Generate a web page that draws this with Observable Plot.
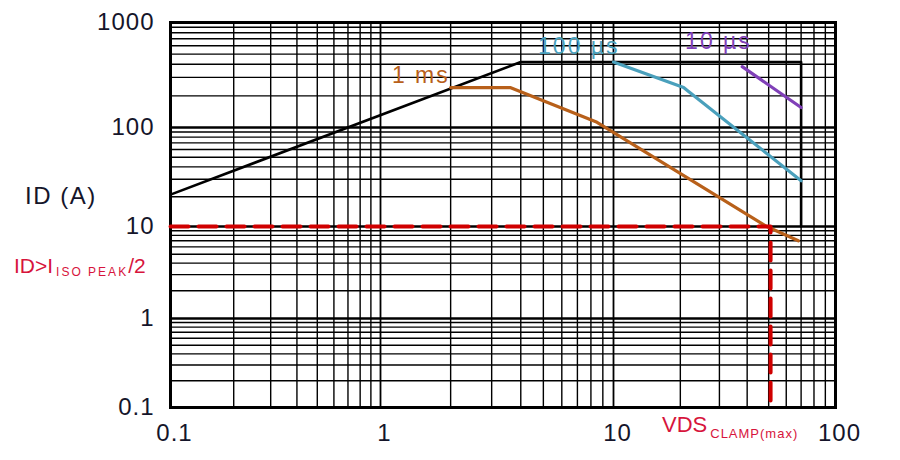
<!DOCTYPE html>
<html>
<head>
<meta charset="utf-8">
<script src="https://cdn.jsdelivr.net/npm/d3@7"></script>
<script src="https://cdn.jsdelivr.net/npm/@observablehq/plot@0.6"></script>
<style>
  html, body { margin: 0; padding: 0; background: #fff; }
  #chart { width: 900px; height: 460px; }
  svg { font-family: "Liberation Sans", Arial, sans-serif; }
  .tick-lbl text { letter-spacing: 1px; }
  .curve-lbl text { letter-spacing: 2px; }
</style>
</head>
<body>
<div id="chart"></div>
<script>
// ---- data ----
const xDecades = [0.1, 1, 10, 100];
const yDecades = [0.1, 1, 10, 100, 1000];
const xTickLabels = {0.1: "0.1", 1: "1", 10: "10", 100: "100"};
const yTickLabels = {0.1: "0.1", 1: "1", 10: "10", 100: "100", 1000: "1000"};

// DC / SOA envelope (black)
const soaVds = [0.1, 4, 70, 70];
const soaId  = [21, 420, 420, 10];
// 1 ms
const ms1Vds = [2, 3.6, 8.5, 49, 68];
const ms1Id  = [240, 240, 112, 10, 7];
// 100 µs
const us100Vds = [10, 20.7, 21.5, 70];
const us100Id  = [420, 240, 225, 29];
// 10 µs
const us10Vds = [38, 70];
const us10Id  = [380, 155];
// limit: ID > I_ISO PEAK / 2 and VDS_CLAMP(max)
const limitVds = [0.1, 51, 51];
const limitId  = [10, 10, 0.1];

// curve labels
const curveNames = ["1 ms", "100 µs", "10 µs"];
const curveLabelVds = [1.49, 7.1, 29.7];
const curveLabelId  = [313, 590, 660];
const curveColors = ["#b8601a", "#4aa0bc", "#8040b8"];

// ---- build tables ----
const toRows = (xs, ys) => xs.map((v, i) => ({v, i: ys[i]}));
const soa = toRows(soaVds, soaId);
const ms1 = toRows(ms1Vds, ms1Id);
const us100 = toRows(us100Vds, us100Id);
const us10 = toRows(us10Vds, us10Id);
const limit = toRows(limitVds, limitId);
const curveLabels = curveNames.map((t, k) => ({t, v: curveLabelVds[k], i: curveLabelId[k], c: curveColors[k]}));

// grid values 2..9 x each decade
const minorGrid = (decades) => {
  const out = [];
  for (let k = 0; k < decades.length - 1; k++)
    for (let m = 2; m <= 9; m++) out.push(+(decades[k] * m).toPrecision(3));
  return out;
};
const xMinor = minorGrid(xDecades);
const yMinor = minorGrid(yDecades);

const plot = Plot.plot({
  width: 900,
  height: 460,
  marginLeft: 170,
  marginRight: 65,
  marginTop: 22,
  marginBottom: 53,
  style: {fontFamily: "Liberation Sans, Arial, sans-serif", background: "#fff", color: "#15152a"},
  x: {type: "log", domain: xDecades, range: [170, 380, 613, 835]},
  y: {type: "log", domain: yDecades, range: [407, 318, 226, 127, 22]},
  marks: [
    Plot.ruleX(xMinor, {stroke: "#000", strokeWidth: 1.4}),
    Plot.ruleY(yMinor, {stroke: "#000", strokeWidth: 1.4}),
    Plot.ruleX(xDecades, {stroke: "#000", strokeWidth: 1.8}),
    Plot.ruleY(yDecades, {stroke: "#000", strokeWidth: 2.6}),
    Plot.frame({stroke: "#000", strokeWidth: 3}),
    Plot.line(soa, {x: "v", y: "i", stroke: "#000", strokeWidth: 2.6}),
    Plot.line(ms1, {x: "v", y: "i", stroke: curveColors[0], strokeWidth: 3.2}),
    Plot.line(us100, {x: "v", y: "i", stroke: curveColors[1], strokeWidth: 3.2}),
    Plot.line(us10, {x: "v", y: "i", stroke: curveColors[2], strokeWidth: 3.2}),
    Plot.line(limit, {x: "v", y: "i", stroke: "#d00000", strokeWidth: 4, strokeDasharray: "18,10"}),
    Plot.text(curveLabels, {x: "v", y: "i", text: "t", fill: "c", fontSize: 23, className: "curve-lbl"}),
    Plot.axisX(xDecades, {tickSize: 0, tickPadding: 16, fontSize: 24, dx: 4, className: "tick-lbl",
      tickFormat: (d) => xTickLabels[d], label: null}),
    Plot.axisY(yDecades, {tickSize: 0, tickPadding: 16, fontSize: 24, className: "tick-lbl",
      tickFormat: (d) => yTickLabels[d], label: null})
  ]
});
document.getElementById("chart").appendChild(plot);

// annotations with subscripts
const svg = d3.select(plot);
svg.append("text").attr("x", 25).attr("y", 204).attr("text-anchor", "start")
  .attr("font-size", 24).attr("letter-spacing", 1.5).attr("fill", "#15152a").text("ID (A)");

const t1 = svg.append("text").attr("x", 14).attr("y", 273).attr("text-anchor", "start")
  .attr("fill", "#d7143c").attr("font-size", 21);
t1.append("tspan").text("ID>I");
t1.append("tspan").attr("font-size", 12).attr("letter-spacing", 2).attr("dy", 3).attr("dx", 3).text("ISO PEAK");
t1.append("tspan").attr("font-size", 21).attr("dy", -3).text("/2");

const t2 = svg.append("text").attr("x", 662).attr("y", 432).attr("text-anchor", "start")
  .attr("fill", "#d7143c").attr("font-size", 22);
t2.append("tspan").text("VDS");
t2.append("tspan").attr("font-size", 13).attr("letter-spacing", 1).attr("dy", 6).attr("dx", 3).text("CLAMP(max)");
</script>
</body>
</html>
